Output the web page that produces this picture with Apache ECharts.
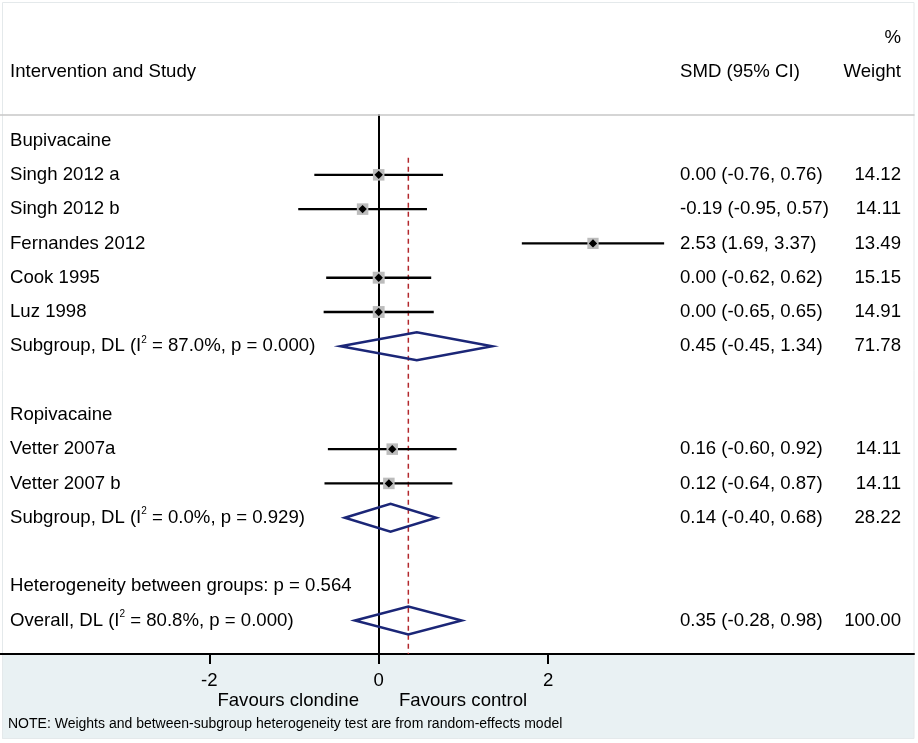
<!DOCTYPE html>
<html>
<head>
<meta charset="utf-8">
<style>
  html, body { margin: 0; padding: 0; background: #ffffff; }
  #chart { width: 918px; height: 743px; }
</style>
<script src="https://cdn.jsdelivr.net/npm/echarts@6.0.0/dist/echarts.min.js"></script>
</head>
<body>
<div id="chart"></div>
<script>
// ---------------- DATA ----------------
const studyNames   = ['Singh 2012 a', 'Singh 2012 b', 'Fernandes 2012', 'Cook 1995', 'Luz 1998', 'Vetter 2007a', 'Vetter 2007 b'];
const studyRows    = [1, 2, 3, 4, 5, 9, 10];
const studySMD     = [0.00, -0.19, 2.53, 0.00, 0.00, 0.16, 0.12];
const studyLower   = [-0.76, -0.95, 1.69, -0.62, -0.65, -0.60, -0.64];
const studyUpper   = [0.76, 0.57, 3.37, 0.62, 0.65, 0.92, 0.87];
const studyWeight  = [14.12, 14.11, 13.49, 15.15, 14.91, 14.11, 14.11];

const pooledLabels = ['Subgroup, DL (I{sup|2} = 87.0%, p = 0.000)', 'Subgroup, DL (I{sup|2} = 0.0%, p = 0.929)', 'Overall, DL (I{sup|2} = 80.8%, p = 0.000)'];
const pooledRows   = [6, 11, 14];
const pooledSMD    = [0.45, 0.14, 0.35];
const pooledLower  = [-0.45, -0.40, -0.28];
const pooledUpper  = [1.34, 0.68, 0.98];
const pooledWeight = [71.78, 28.22, 100.00];

const headingLabels = ['Bupivacaine', 'Ropivacaine', 'Heterogeneity between groups: p = 0.564'];
const headingRows   = [0, 8, 13];

const xTickValues = [-2, 0, 2];
const overallSMD = pooledSMD[2];

// ---------------- LAYOUT / STYLE ----------------
const FONT = '"Liberation Sans", Arial, sans-serif';
const FS = 18.6;
const X_MIN = -4.471, X_MAX = 6.32;
const Y_MIN = -0.745, Y_MAX = 14.975;
const COL_LABEL_X = 10, COL_SMD_X = 680, COL_W_RIGHT = 901;

function fmt(v) { return v.toFixed(2); }
function textEl(text, x, y, align, extra) {
  return {
    type: 'text',
    style: Object.assign({
      text: text, x: x, y: y, align: align, verticalAlign: 'middle',
      fill: '#000', font: FS + 'px ' + FONT, fontSize: FS, fontFamily: FONT
    }, extra || {})
  };
}

const studyData = studyNames.map((n, i) => [studyRows[i], studySMD[i], studyLower[i], studyUpper[i], studyWeight[i]]);
const pooledData = pooledLabels.map((n, i) => [pooledRows[i], pooledSMD[i], pooledLower[i], pooledUpper[i], pooledWeight[i]]);
const headingData = headingLabels.map((n, i) => [0, headingRows[i]]);

function renderStudy(params, api) {
  const i = params.dataIndex;
  const row = api.value(0), est = api.value(1), lo = api.value(2), hi = api.value(3), w = api.value(4);
  const pL = api.coord([lo, row]), pR = api.coord([hi, row]), pC = api.coord([est, row]);
  const y = pC[1];
  const s = 11.5 * Math.sqrt(w / 14.1);
  const d = 4.2;
  return {
    type: 'group',
    children: [
      { type: 'line', shape: { x1: pL[0], y1: y, x2: pR[0], y2: y }, style: { stroke: '#000', lineWidth: 2.4 } },
      { type: 'rect', shape: { x: pC[0] - s / 2, y: y - s / 2, width: s, height: s }, style: { fill: '#bcbcbc' } },
      { type: 'polygon', shape: { points: [[pC[0] - d, y], [pC[0], y - d], [pC[0] + d, y], [pC[0], y + d]] }, style: { fill: '#000' } },
      textEl(studyNames[i], COL_LABEL_X, y, 'left'),
      textEl(fmt(est) + ' (' + fmt(lo) + ', ' + fmt(hi) + ')', COL_SMD_X, y, 'left'),
      textEl(fmt(w), COL_W_RIGHT, y, 'right')
    ]
  };
}

function renderPooled(params, api) {
  const i = params.dataIndex;
  const row = api.value(0), est = api.value(1), lo = api.value(2), hi = api.value(3), w = api.value(4);
  const pL = api.coord([lo, row]), pR = api.coord([hi, row]), pC = api.coord([est, row]);
  const y = pC[1];
  const h = 14;
  return {
    type: 'group',
    children: [
      { type: 'polygon', shape: { points: [[pL[0], y], [pC[0], y - h], [pR[0], y], [pC[0], y + h]] },
        style: { fill: 'none', stroke: '#1b2677', lineWidth: 2.5, lineJoin: 'miter' } },
      textEl(pooledLabels[i], COL_LABEL_X, y, 'left', {
        lineHeight: 22,
        rich: { sup: { fontSize: 10, fontFamily: FONT, lineHeight: 12, verticalAlign: 'top', fill: '#000' } }
      }),
      textEl(fmt(est) + ' (' + fmt(lo) + ', ' + fmt(hi) + ')', COL_SMD_X, y, 'left'),
      textEl(fmt(w), COL_W_RIGHT, y, 'right')
    ]
  };
}

function renderHeading(params, api) {
  const i = params.dataIndex;
  const p = api.coord([0, api.value(1)]);
  return textEl(headingLabels[i], COL_LABEL_X, p[1], 'left');
}

const chart = echarts.init(document.getElementById('chart'), null, { renderer: 'canvas' });

const option = {
  backgroundColor: '#ffffff',
  animation: false,
  textStyle: { fontFamily: FONT },
  graphic: [
    { type: 'rect', z: -10, shape: { x: 2, y: 655, width: 912, height: 84 }, style: { fill: '#e9f1f3' } },
    { type: 'rect', z: -9, shape: { x: 2.5, y: 2.5, width: 911.5, height: 736 }, style: { fill: 'none', stroke: '#e4e9eb', lineWidth: 1 } },
    { type: 'text', style: { text: '%', x: COL_W_RIGHT, y: 38, align: 'right', verticalAlign: 'middle', font: FS + 'px ' + FONT, fill: '#000' } },
    { type: 'text', style: { text: 'Intervention and Study', x: COL_LABEL_X, y: 72, align: 'left', verticalAlign: 'middle', font: FS + 'px ' + FONT, fill: '#000' } },
    { type: 'text', style: { text: 'SMD (95% CI)', x: COL_SMD_X, y: 72, align: 'left', verticalAlign: 'middle', font: FS + 'px ' + FONT, fill: '#000' } },
    { type: 'text', style: { text: 'Weight', x: COL_W_RIGHT, y: 72, align: 'right', verticalAlign: 'middle', font: FS + 'px ' + FONT, fill: '#000' } },
    { type: 'text', style: { text: 'Favours clondine', x: 359, y: 701, align: 'right', verticalAlign: 'middle', font: FS + 'px ' + FONT, fill: '#000' } },
    { type: 'text', style: { text: 'Favours control', x: 399, y: 701, align: 'left', verticalAlign: 'middle', font: FS + 'px ' + FONT, fill: '#000' } },
    { type: 'text', style: { text: 'NOTE: Weights and between-subgroup heterogeneity test are from random-effects model', x: 8, y: 724, align: 'left', verticalAlign: 'middle', font: '14px ' + FONT, fill: '#000' } }
  ],
  grid: { left: 0, right: 4, top: 115, bottom: 89, containLabel: false },
  xAxis: [
    {
      type: 'value', position: 'bottom', min: X_MIN, max: X_MAX,
      axisLine: { show: true, onZero: false, lineStyle: { color: '#000', width: 2 } },
      axisTick: { show: true, customValues: xTickValues, length: 10, lineStyle: { color: '#000', width: 2 } },
      axisLabel: { show: true, customValues: xTickValues, color: '#000', fontSize: FS, fontFamily: FONT, margin: 17 },
      splitLine: { show: false }
    },
    {
      type: 'value', position: 'top', min: X_MIN, max: X_MAX,
      axisLine: { show: true, onZero: false, lineStyle: { color: '#c8c8c8', width: 1.5 } },
      axisTick: { show: false }, axisLabel: { show: false }, splitLine: { show: false }
    }
  ],
  yAxis: {
    type: 'value', inverse: true, min: Y_MIN, max: Y_MAX,
    axisLine: { show: true, onZero: true, lineStyle: { color: '#000', width: 2 } },
    axisTick: { show: false }, axisLabel: { show: false }, splitLine: { show: false }
  },
  series: [
    {
      type: 'line', name: 'overall', z: 1, silent: true, symbol: 'none',
      data: [[overallSMD, 0.5], [overallSMD, Y_MAX]],
      lineStyle: { color: '#b3282d', width: 1.5, type: [5, 4] }
    },
    { type: 'custom', name: 'studies', z: 3, renderItem: renderStudy, data: studyData, clip: false },
    { type: 'custom', name: 'pooled', z: 4, renderItem: renderPooled, data: pooledData, clip: false },
    { type: 'custom', name: 'headings', z: 3, renderItem: renderHeading, data: headingData, clip: false }
  ]
};
chart.setOption(option);
</script>
</body>
</html>
